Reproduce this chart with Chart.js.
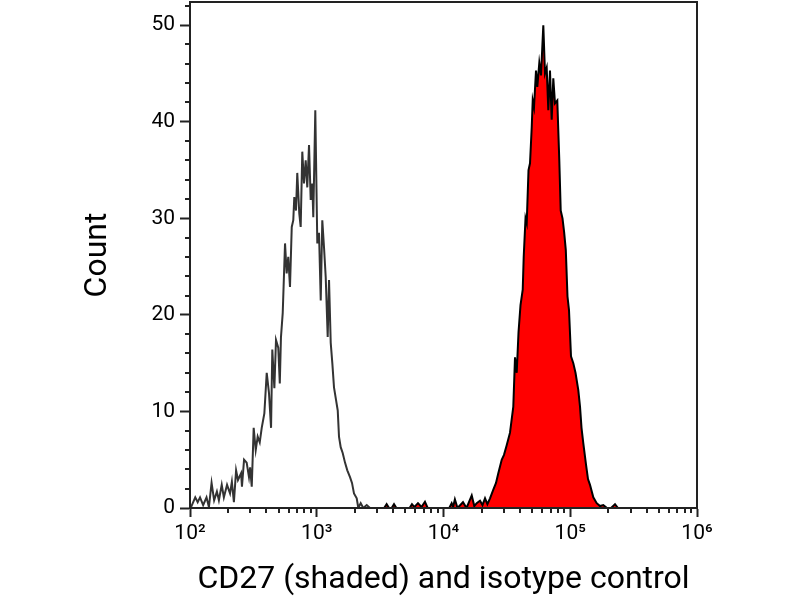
<!DOCTYPE html>
<html>
<head>
<meta charset="utf-8">
<title>CD27 histogram</title>
<script src="https://cdn.jsdelivr.net/npm/chart.js@4.4.1/dist/chart.umd.min.js"></script>
<style>
  html, body { margin: 0; padding: 0; background: #fff; }
  #wrap { width: 800px; height: 600px; }
</style>
</head>
<body>
<div id="wrap"><canvas id="histChart" width="800" height="600"></canvas></div>
<script>
// fluorescence intensity (x) and event count (y)
const isotypeX = [
  100, 102, 110, 115, 120, 127, 135, 141, 148, 155,
  163, 169, 178, 185, 196, 207, 214, 222, 231, 239,
  253, 257, 267, 280, 292, 298, 307, 318, 330, 342,
  355, 368, 386, 403, 420, 436, 446, 463, 477, 497,
  511, 522, 539, 562, 579, 596, 615, 635, 653, 665,
  686, 702, 728, 747, 769, 793, 818, 842, 869, 896,
  922, 939, 974, 1010, 1042, 1075, 1106, 1141, 1177, 1220,
  1250, 1289, 1327, 1368, 1419, 1464, 1498, 1545, 1602, 1671,
  1742, 1830, 1897, 1967, 2067, 2127, 2222, 2329, 2479, 2631
];
const isotypeCount = [
  0.3, 0.1, 1.1, 0.6, 1.1, 0.3, 1.1, 0.1, 2.6, 0.8,
  1.7, 0.8, 2.4, 1.1, 2.4, 1.5, 2.7, 0.6, 3.9, 2.9,
  3.6, 2.2, 5.0, 4.7, 3.2, 4.2, 2.2, 8.3, 6.0, 7.4,
  6.8, 8.3, 9.8, 14.0, 11.9, 8.3, 16.4, 12.4, 17.4, 16.6,
  12.9, 17.7, 20.2, 27.4, 24.3, 26.0, 22.9, 29.1, 29.8, 32.2,
  30.8, 34.7, 30.5, 29.1, 36.9, 33.6, 36.0, 33.2, 37.6, 31.9,
  33.6, 30.1, 41.2, 27.4, 28.5, 21.5, 29.8, 27.0, 23.9, 17.7,
  23.6, 17.1, 15.0, 12.5, 11.2, 10.1, 7.4, 6.3, 5.7, 4.7,
  3.9, 3.2, 2.6, 1.5, 1.0, 0, 0.5, 0, 0.3, 0
];

const cd27X = [
  2631, 3400, 3560, 3720, 3900, 4070, 4250,
  5400, 5640, 5900, 6290, 6700, 7140, 7500,
  11100, 11600, 11900, 12300, 12900, 14250, 15200, 16700, 17500, 18280,
  19410, 20300, 21260, 22200, 23280,
  24720, 25960, 27060, 28790, 30010, 31520, 33470, 35540, 36660, 37810,
  39070, 40510, 42170, 42930, 44360, 45340, 46850, 48140, 49650, 50560,
  51760, 53680, 54970, 57000, 58780, 61300, 63210, 65190, 67110, 69210,
  71380, 73500, 75800, 79030, 81960, 84080, 86880, 89440, 92240, 95130,
  97750, 101370, 105700, 110000, 115750, 119400, 122700, 126800, 133150, 138040,
  143150, 152000, 161700, 171700, 182300, 195000, 210000, 225500, 238100
];
const cd27Count = [
  0, 0, 0.4, 0, 0, 0.4, 0,
  0, 0.4, 0.1, 0.5, 0.1, 0.65, 0,
  0, 0.5, 0.1, 0.9, 0, 0.6, 0, 1.3, 0.2, 0.5,
  0.75, 0.3, 1.0, 0.4, 1.0,
  1.9, 2.6, 3.6, 5.0, 5.5, 6.5, 7.8, 10.5, 15.6, 14.0,
  18.2, 21.0, 22.6, 26.0, 30.0, 29.5, 35.0, 35.7, 39.4, 42.2,
  41.5, 45.3, 43.6, 46.1, 44.8, 50.0, 45.0, 45.6, 41.2, 45.3,
  40.2, 44.5, 41.9, 42.2, 36.0, 30.8, 30.0, 28.6, 26.7, 21.9,
  20.5, 15.7, 15.0, 14.0, 12.2, 10.5, 8.3, 6.7, 4.5, 3.0,
  2.4, 1.1, 0.5, 0.2, 0.3, 0, 0, 0.4, 0
];

// axis ticks
const decades = [100, 1000, 10000, 100000, 1000000];
const decadeLabels = ['10²', '10³', '10⁴', '10⁵', '10⁶'];
const countLabels = [0, 10, 20, 30, 40, 50];

const FONT = 'Roboto, "Noto Sans", sans-serif';
const AXIS = '#222';

function toPoints(xs, ys) {
  return xs.map((x, i) => ({ x: x, y: ys[i] }));
}

// x: every 1..9 step inside each decade, majors on the powers of ten
const xTicks = [];
decades.forEach((d, i) => {
  if (i === decades.length - 1) { xTicks.push({ value: d, major: true }); return; }
  for (let k = 1; k <= 9; k++) xTicks.push({ value: d * k, major: k === 1 });
});
// y: minor tick every 2 counts, labelled every 10
const yTicks = [];
for (let v = 0; v <= 52; v += 2) yTicks.push({ value: v, major: countLabels.includes(v) });

// no extra room for half labels at the ends, plot area is fixed by layout padding
function noEndPadding(scale) {
  scale.paddingTop = 0;
  scale.paddingBottom = 0;
  scale.paddingLeft = 0;
  scale.paddingRight = 0;
}

// short minor ticks + box frame round the plot
const frameAndMinorTicks = {
  id: 'frameAndMinorTicks',
  afterDraw(chart) {
    const { ctx, chartArea: a, scales } = chart;
    ctx.save();
    ctx.strokeStyle = AXIS;
    ctx.lineWidth = 2;
    ctx.beginPath();
    scales.x.ticks.forEach(t => {
      if (t.major) return;
      const px = Math.round(scales.x.getPixelForValue(t.value));
      ctx.moveTo(px, a.bottom);
      ctx.lineTo(px, a.bottom + 5);
    });
    scales.y.ticks.forEach(t => {
      if (t.major) return;
      const py = Math.round(scales.y.getPixelForValue(t.value));
      ctx.moveTo(a.left, py);
      ctx.lineTo(a.left - 5, py);
    });
    ctx.stroke();
    ctx.strokeRect(a.left, a.top, a.right - a.left, a.bottom - a.top);
    ctx.restore();
  }
};

const ctx = document.getElementById('histChart').getContext('2d');

new Chart(ctx, {
  type: 'line',
  data: {
    datasets: [
      {
        label: 'Isotype control',
        data: toPoints(isotypeX, isotypeCount),
        borderColor: '#333',
        borderWidth: 2,
        pointRadius: 0,
        tension: 0,
        fill: false
      },
      {
        label: 'CD27',
        data: toPoints(cd27X, cd27Count),
        borderColor: '#000',
        backgroundColor: '#ff0000',
        borderWidth: 2,
        pointRadius: 0,
        tension: 0,
        fill: 'origin'
      }
    ]
  },
  options: {
    responsive: false,
    animation: false,
    devicePixelRatio: 1,
    layout: { padding: { left: 0, right: 103, top: 2, bottom: 0 } },
    plugins: {
      legend: { display: false },
      tooltip: { enabled: false }
    },
    scales: {
      x: {
        type: 'logarithmic',
        min: 100,
        max: 1000000,
        afterBuildTicks: scale => { scale.ticks = xTicks.map(t => ({ ...t })); },
        afterFit: scale => { scale.height = 92; noEndPadding(scale); },
        grid: {
          drawOnChartArea: false,
          tickLength: 9,
          tickWidth: 2,
          tickColor: c => (c.tick && c.tick.major ? AXIS : 'rgba(0,0,0,0)')
        },
        border: { color: AXIS, width: 2 },
        ticks: {
          autoSkip: false,
          maxRotation: 0,
          padding: 4,
          color: '#000',
          font: { family: FONT, size: 21 },
          callback: (value, i, ticks) => {
            const idx = decades.indexOf(ticks[i].value);
            return idx >= 0 ? decadeLabels[idx] : '';
          }
        },
        title: {
          display: true,
          text: 'CD27 (shaded) and isotype control',
          color: '#000',
          font: { family: FONT, size: 32 },
          padding: { top: 0, bottom: 1 }
        }
      },
      y: {
        min: 0,
        max: 52.4,
        afterBuildTicks: scale => { scale.ticks = yTicks.map(t => ({ ...t })); },
        afterFit: scale => { scale.width = 190; noEndPadding(scale); },
        grid: {
          drawOnChartArea: false,
          tickLength: 10,
          tickWidth: 2,
          tickColor: c => (c.tick && c.tick.major ? AXIS : 'rgba(0,0,0,0)')
        },
        border: { color: AXIS, width: 2 },
        ticks: {
          autoSkip: false,
          padding: 5,
          color: '#000',
          font: { family: FONT, size: 21 },
          callback: (value, i, ticks) => (ticks[i].major ? String(value) : '')
        },
        title: {
          display: true,
          text: 'Count',
          color: '#000',
          font: { family: FONT, size: 32 },
          padding: { top: 79, bottom: 0 }
        }
      }
    }
  },
  plugins: [frameAndMinorTicks]
});
</script>
</body>
</html>
